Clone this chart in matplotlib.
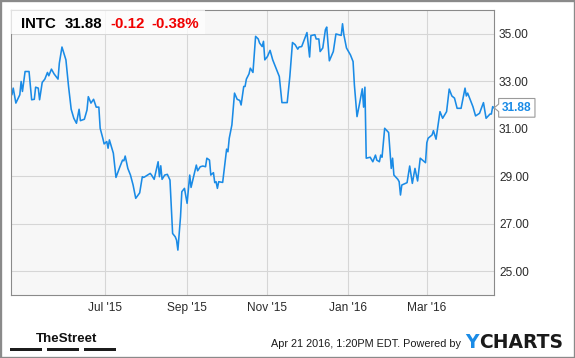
import numpy as np
import pandas as pd
import matplotlib
matplotlib.use("Agg")
import matplotlib.pyplot as plt
import matplotlib.dates as mdates
from matplotlib.patches import Rectangle
from matplotlib.path import Path

# =========================
#  Data
# =========================

start_date = "2015-04-20"

# trading-day offsets (days after start_date)
days = [
    0, 1, 2, 4, 7, 8, 9, 11, 14, 16, 18, 19, 21, 22, 24, 26, 28, 29, 31, 33,
    36, 37, 39, 42, 44, 46, 48, 50, 52, 53, 56, 58, 59, 61, 63, 65, 67, 68, 70, 71,
    73, 74, 75, 78, 80, 83, 85, 86, 87, 89, 91, 93,
    95, 98, 100, 101, 102, 106, 107, 109, 112, 113, 114, 115, 117, 119, 121, 123, 125, 126, 127, 129,
    130, 132, 134, 136, 137, 141, 142, 144, 146, 148, 149, 151, 152, 154, 155, 156, 157, 158, 161, 164,
    165, 166, 168, 170, 172, 174, 175, 177, 178, 179, 181, 182, 184,
    186, 188, 189, 191, 192, 193, 195, 197, 199, 204, 206, 210, 212, 214, 216, 218, 219, 221, 223, 225,
    227, 228, 231, 232, 234, 235, 237, 239, 240, 242, 245, 247, 251, 252, 253, 255, 258, 260, 261, 263,
    265, 267, 268, 269, 270, 273, 275, 277, 278, 280, 281, 282, 284, 287, 289, 290, 291, 294, 295, 296,
    297, 301, 303, 305, 307, 309, 311, 315, 316, 317, 320, 321, 323, 326, 328, 331, 333, 335, 337, 339,
    342, 345, 346, 347, 351, 353, 356, 359, 361, 364, 365, 366, 367,
]

prices = [
    32.67, 32.43, 32.71, 32.08, 32.43, 32.99, 32.57, 33.41, 33.41, 32.22,
    32.24, 32.75, 32.71, 32.22, 32.95, 33.09, 33.37, 33.23, 33.51, 33.31,
    33.09, 33.76, 34.44, 33.90, 32.78, 31.82, 31.44, 31.23, 31.82, 31.34,
    31.40, 31.79, 32.35, 32.08, 32.24, 31.91, 31.91, 31.02, 30.60, 30.36,
    30.46, 30.18, 30.53, 29.97, 28.95, 29.40, 29.68, 29.65, 29.85, 29.33,
    29.05, 28.63,
    28.07, 28.30, 28.98, 28.95, 28.98, 29.12, 29.05, 28.87, 29.61, 28.98,
    29.44, 28.87, 29.05, 29.08, 28.84, 26.59, 26.45, 26.31, 25.89, 27.29,
    28.35, 28.49, 27.86, 29.05, 28.53, 29.47, 29.23, 29.40, 29.43, 29.40,
    29.76, 29.68, 29.05, 29.15, 28.73, 28.77, 28.49, 28.77, 28.74, 30.14,
    30.03, 30.60, 31.16, 32.50, 32.24, 32.19, 32.00, 32.78, 32.78, 33.09,
    33.31, 33.55, 33.37,
    34.89, 34.78, 34.61, 34.46, 34.68, 33.90, 34.04, 34.30, 33.90, 33.20,
    32.10, 32.10, 33.20, 34.63, 34.54, 34.35, 34.44, 34.46, 34.75, 35.05,
    34.02, 34.92, 34.96, 34.78, 34.78, 34.25, 34.40, 35.17, 35.28, 33.86,
    34.25, 34.99, 34.93, 35.42, 34.96, 34.40, 34.11, 33.83, 32.85, 31.51,
    32.08, 32.68, 31.91, 32.75, 29.76, 29.80, 29.61, 29.89, 29.68, 29.61,
    29.89, 29.80, 31.02, 30.84, 29.33, 29.76, 29.05, 28.87, 28.77, 28.21,
    28.63, 28.73, 29.43, 28.70, 29.33, 28.80, 29.76, 29.57, 30.41, 30.60,
    30.74, 30.92, 30.56, 31.72, 31.44, 31.72, 32.67, 32.38, 32.29, 31.86,
    31.86, 32.71, 32.38, 32.50, 31.93, 31.54, 31.65, 32.10, 31.44, 31.62,
    31.62, 31.93, 31.88,
]

x_tick_dates = ["2015-07-01", "2015-09-01", "2015-11-01", "2016-01-01", "2016-03-01"]
x_tick_labels = ["Jul '15", "Sep '15", "Nov '15", "Jan '16", "Mar '16"]
y_ticks = [25, 27, 29, 31, 33, 35]

ticker = "INTC"
last_price = "31.88"
change = "-0.12"
change_pct = "-0.38%"
stamp = "Apr 21 2016, 1:20PM EDT. Powered by"

BLUE = "#1a8be6"
RED = "#f00000"
FONT = "Liberation Sans"


def tag_box(x0, y0, width, height, mutation_size):
    """Price tag box with a small notch pointing left."""
    pad = mutation_size * 0.28
    x0, y0 = x0 - pad, y0 - pad
    x1, y1 = x0 + width + 2 * pad, y0 + height + 2 * pad
    ym = (y0 + y1) / 2
    h = (y1 - y0) * 0.2
    verts = [(x0, y0), (x1, y0), (x1, y1), (x0, y1),
             (x0, ym + h), (x0 - h * 1.2, ym), (x0, ym - h), (x0, y0)]
    codes = [Path.MOVETO] + [Path.LINETO] * 6 + [Path.CLOSEPOLY]
    return Path(verts, codes)


def main():
    dates = pd.Timestamp(start_date) + pd.to_timedelta(days, unit="D")

    fig = plt.figure(figsize=(5.75, 3.58), dpi=100, facecolor="white")
    ax = fig.add_axes([0.01843, 0.1760, 0.8407, 0.7961])
    ax.set_facecolor("#f7f7f7")

    ax.plot(dates, prices, color=BLUE, lw=1.15, zorder=2, solid_joinstyle="round")

    ax.set_xlim(pd.Timestamp(start_date), dates[-1])
    ax.set_ylim(24, 36)

    ax.set_xticks([mdates.date2num(pd.Timestamp(d)) for d in x_tick_dates])
    ax.set_xticklabels(x_tick_labels)
    ax.set_yticks(y_ticks)
    ax.set_yticklabels([f"{v:.2f}" for v in y_ticks])
    ax.yaxis.tick_right()
    ax.tick_params(axis="both", length=0, labelsize=8.6, labelcolor="#2a2a2a")
    ax.tick_params(axis="y", pad=3.6)
    ax.tick_params(axis="x", pad=4.8)
    for lab in ax.get_xticklabels() + ax.get_yticklabels():
        lab.set_fontfamily(FONT)

    ax.grid(True, color="#d6d6d6", lw=0.8, zorder=0)
    ax.set_axisbelow(True)
    for sp in ax.spines.values():
        sp.set_color("#8a8a8a")
        sp.set_linewidth(0.8)

    # header box with quote
    ax.add_patch(Rectangle((0, 0.916), 0.402, 0.084, transform=ax.transAxes,
                           facecolor="white", alpha=0.75, edgecolor="none", zorder=3))
    hy = 0.9338
    fig.text(0.0365, hy, ticker, fontsize=10.8, fontweight="bold", family=FONT,
             color="black", va="center", zorder=5)
    fig.text(0.1130, hy, last_price, fontsize=10.8, fontweight="bold", family=FONT,
             color="black", va="center", zorder=5)
    fig.text(0.1913, hy, change, fontsize=10.8, fontweight="bold", family=FONT,
             color=RED, va="center", zorder=5)
    fig.text(0.2626, hy, change_pct, fontsize=10.8, fontweight="bold", family=FONT,
             color=RED, va="center", zorder=5)

    # last price tag
    ax.annotate(last_price, xy=(dates[-1], prices[-1]), xytext=(8, 0),
                textcoords="offset pixels", ha="left", va="center",
                fontsize=8.6, fontweight="bold", family=FONT, color=BLUE,
                annotation_clip=False,
                bbox=dict(boxstyle=tag_box, facecolor="white", edgecolor="#9a9a9a", lw=0.8))

    # footer
    fig.text(0.0626, 0.0455, "TheStreet", fontsize=9.6, fontweight="bold",
             family=FONT, color="#111111", va="baseline")
    for bx in [0.0174, 0.0817, 0.1461]:
        fig.add_artist(Rectangle((bx, 0.01955), 0.0557, 0.0092, transform=fig.transFigure,
                                 facecolor="#1c1c1c", edgecolor="none"))

    fig.text(0.4713, 0.0321, stamp, fontsize=7.8, family=FONT, color="#1a1a1a",
             va="baseline")
    charts = fig.text(0.979, 0.0271, "CHARTS", fontsize=13.5, fontweight="bold",
                      family="DejaVu Sans", color="#1a1a1a", ha="right", va="baseline")
    ax.annotate("Y", xy=(0, 0), xycoords=charts, ha="right", va="bottom",
                fontsize=13.5, fontweight="bold", family="DejaVu Sans", color=BLUE,
                annotation_clip=False)

    # outer frame
    fig.add_artist(Rectangle((0, 0), 1, 1, transform=fig.transFigure, fill=False,
                             edgecolor="#8a8a8a", lw=2.4))

    fig.savefig("out.png", dpi=100)
    plt.close(fig)


if __name__ == "__main__":
    main()
